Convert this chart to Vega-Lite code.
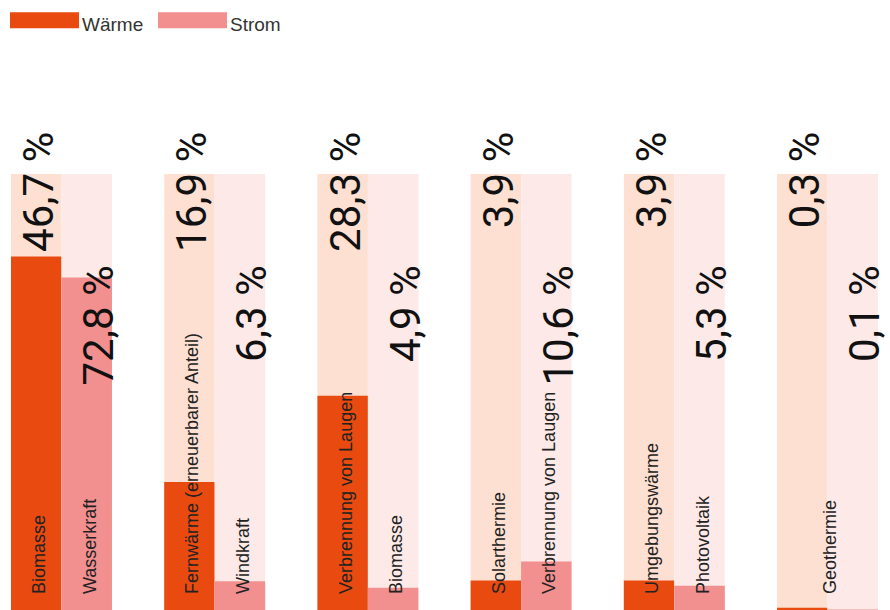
{
  "$schema": "https://vega.github.io/schema/vega-lite/v6.json",
  "width": 889,
  "height": 610,
  "padding": 0,
  "autosize": {"type": "none"},
  "config": {
    "view": {"stroke": null},
    "font": "Liberation Sans",
    "locale": {"number": {"decimal": ",", "thousands": ".", "grouping": [3], "currency": ["", " %"]}}
  },
  "datasets": {
    "anteile": [
      {"gruppe": "1", "art": "Wärme", "quelle": "Biomasse", "anteil": 46.7},
      {"gruppe": "1", "art": "Strom", "quelle": "Wasserkraft", "anteil": 72.8},
      {"gruppe": "2", "art": "Wärme", "quelle": "Fernwärme (erneuerbarer Anteil)", "anteil": 16.9},
      {"gruppe": "2", "art": "Strom", "quelle": "Windkraft", "anteil": 6.3},
      {"gruppe": "3", "art": "Wärme", "quelle": "Verbrennung von Laugen", "anteil": 28.3},
      {"gruppe": "3", "art": "Strom", "quelle": "Biomasse", "anteil": 4.9},
      {"gruppe": "4", "art": "Wärme", "quelle": "Solarthermie", "anteil": 3.9},
      {"gruppe": "4", "art": "Strom", "quelle": "Verbrennung von Laugen", "anteil": 10.6},
      {"gruppe": "5", "art": "Wärme", "quelle": "Umgebungswärme", "anteil": 3.9},
      {"gruppe": "5", "art": "Strom", "quelle": "Photovoltaik", "anteil": 5.3},
      {"gruppe": "6", "art": "Wärme", "quelle": null, "anteil": 0.3},
      {"gruppe": "6", "art": "Strom", "quelle": null, "anteil": 0.1}
    ],
    "gemeinsam": [
      {"gruppe": "6", "quelle": "Geothermie"}
    ]
  },
  "data": {"name": "anteile"},
  "layer": [
    {
      "transform": [{"filter": "datum.art === 'Wärme'"}],
      "layer": [
        {
          "mark": {"type": "bar", "color": "#FDE0D1"},
          "encoding": {
            "x": {"field": "gruppe", "type": "nominal", "axis": null, "scale": {"paddingInner": 0.341, "paddingOuter": 0.0718}},
            "xOffset": {"field": "art", "type": "nominal", "scale": {"domain": ["Wärme", "Strom"], "paddingInner": 0, "paddingOuter": 0}},
            "y": {"datum": 57.6, "type": "quantitative", "axis": null, "scale": {"domain": [0, 80.6], "nice": false}}
          }
        },
        {
          "mark": {"type": "bar"},
          "encoding": {
            "x": {"field": "gruppe", "type": "nominal", "axis": null},
            "xOffset": {"field": "art", "type": "nominal"},
            "y": {"field": "anteil", "type": "quantitative", "axis": null},
            "color": {
              "field": "art", "type": "nominal",
              "scale": {"domain": ["Wärme", "Strom"], "range": ["#E84A10", "#F28F8F"]},
              "legend": {
                "orient": "none", "legendX": 10, "legendY": -9.5, "direction": "horizontal", "title": null,
                "symbolType": "M-1,-0.377H1V0.087H-1Z", "symbolSize": 4761, "symbolStrokeWidth": 0,
                "labelFontSize": 19, "labelOffset": 3, "columnPadding": 14, "padding": 0,
                "labelColor": "#333333", "labelFont": "Liberation Sans"
              }
            }
          }
        }
      ]
    },
    {
      "transform": [{"filter": "datum.art === 'Strom'"}],
      "layer": [
        {
          "mark": {"type": "bar", "color": "#FDEAE8"},
          "encoding": {
            "x": {"field": "gruppe", "type": "nominal", "axis": null},
            "xOffset": {"field": "art", "type": "nominal"},
            "y": {"datum": 95.5, "type": "quantitative", "axis": null, "scale": {"domain": [0, 133.6], "nice": false}}
          }
        },
        {
          "mark": {"type": "bar"},
          "encoding": {
            "x": {"field": "gruppe", "type": "nominal", "axis": null},
            "xOffset": {"field": "art", "type": "nominal"},
            "y": {"field": "anteil", "type": "quantitative", "axis": null},
            "color": {"field": "art", "type": "nominal"}
          }
        }
      ]
    },
    {
      "transform": [{"filter": "datum.art === 'Wärme'"}],
      "mark": {"type": "text", "angle": 270, "align": "right", "baseline": "alphabetic", "dy": 17, "font": "Roboto", "fontSize": 42, "color": "#111111"},
      "encoding": {
        "x": {"field": "gruppe", "type": "nominal", "axis": null},
        "xOffset": {"field": "art", "type": "nominal"},
        "y": {"datum": 63.2, "type": "quantitative", "axis": null, "scale": {"domain": [0, 80.6], "nice": false}},
        "text": {"field": "anteil", "type": "quantitative", "format": "$.1f"}
      }
    },
    {
      "transform": [{"filter": "datum.art === 'Strom'"}],
      "mark": {"type": "text", "angle": 270, "align": "right", "baseline": "alphabetic", "dy": 26.5, "font": "Roboto", "fontSize": 42, "color": "#111111"},
      "encoding": {
        "x": {"field": "gruppe", "type": "nominal", "axis": null},
        "xOffset": {"field": "art", "type": "nominal"},
        "y": {"datum": 75.5, "type": "quantitative", "axis": null, "scale": {"domain": [0, 133.6], "nice": false}},
        "text": {"field": "anteil", "type": "quantitative", "format": "$.1f"}
      }
    },
    {
      "transform": [{"filter": "datum.quelle != null"}],
      "mark": {"type": "text", "angle": 270, "align": "left", "baseline": "alphabetic", "dx": 16, "dy": 9, "fontSize": 18, "color": "#222222"},
      "encoding": {
        "x": {"field": "gruppe", "type": "nominal", "axis": null},
        "xOffset": {"field": "art", "type": "nominal"},
        "y": {"datum": 0, "type": "quantitative", "axis": null, "scale": {"domain": [0, 1], "nice": false}},
        "text": {"field": "quelle", "type": "nominal"}
      }
    },
    {
      "data": {"name": "gemeinsam"},
      "mark": {"type": "text", "angle": 270, "align": "left", "baseline": "alphabetic", "dx": 16, "dy": 8, "fontSize": 18, "color": "#222222"},
      "encoding": {
        "x": {"field": "gruppe", "type": "nominal", "axis": null},
        "y": {"datum": 0, "type": "quantitative", "axis": null, "scale": {"domain": [0, 1], "nice": false}},
        "text": {"field": "quelle", "type": "nominal"}
      }
    }
  ],
  "resolve": {"scale": {"y": "independent"}}
}
